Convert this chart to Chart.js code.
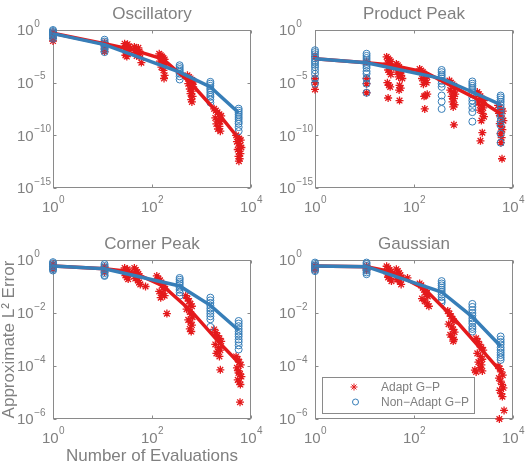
<!DOCTYPE html>
<html lang="en">
<head>
<meta charset="UTF-8">
<title>Adapt vs Non-Adapt G-P</title>
<script src="https://cdn.jsdelivr.net/npm/chart.js"></script>
<style>
  body { margin: 0; background: #fff; }
  .wrap { position: relative; width: 526px; height: 464px; }
  canvas { position: absolute; }
</style>
</head>
<body>
<div class="wrap">
  <canvas id="osc" width="263" height="232" style="left:0;top:0"></canvas>
  <canvas id="prod" width="263" height="232" style="left:263px;top:0"></canvas>
  <canvas id="corner" width="263" height="232" style="left:0;top:232px"></canvas>
  <canvas id="gauss" width="263" height="232" style="left:263px;top:232px"></canvas>
</div>
<script>
// ---- data ----
const xTicks = [1, 100, 10000];
const xTickExp = ['0', '2', '4'];
const yTicksWide = [1e-15, 1e-10, 1e-5, 1];
const yTickExpWide = ['\u221215', '\u221210', '\u22125', '0'];
const yTicksNarrow = [1e-6, 1e-4, 1e-2, 1];
const yTickExpNarrow = ['\u22126', '\u22124', '\u22122', '0'];

const nonAdaptEvals = [1, 11, 362, 1510, 5630];
const adaptMeanEvals = [1, 11, 31, 50, 167, 624, 2150, 5630];

// Oscillatory
const oscNonAdapt = [
  [1.0, 0.8, 0.63, 0.5, 0.4, 0.3, 0.22, 0.15],
  [0.12, 0.08, 0.055, 0.04, 0.03, 0.02, 0.013, 0.008],
  [4.5e-4, 3e-4, 2e-4, 1.4e-4, 1e-4, 7e-5, 4e-5, 2e-5],
  [1.2e-5, 8e-6, 5e-6, 3e-6, 2e-6, 1.2e-6, 7e-7, 4.5e-7, 2.5e-7, 1.3e-7],
  [3.4e-8, 2.2e-8, 1.4e-8, 9e-9, 5.5e-9, 3.5e-9, 2e-9, 1.3e-9, 6e-10, 2.5e-10]
];
const oscNonAdaptMean = [0.45, 0.041, 1.0e-4, 3.9e-6, 1.4e-8];
const oscAdapt = [
  [1, 0.63], [1, 0.32], [1, 0.16], [1, 0.09],
  [11, 0.063], [11, 0.032], [11, 0.016], [11, 0.009],
  [28, 0.05], [30, 0.035], [32, 0.045], [34, 0.028], [29, 0.02], [31, 0.015], [33, 0.022], [35, 0.012], [30, 0.008], [32, 0.006], [29, 0.004], [31, 0.003],
  [44, 0.025], [47, 0.018], [50, 0.012], [53, 0.02], [56, 0.009], [46, 0.007], [52, 0.005], [49, 0.0035], [55, 0.003], [58, 0.006], [61, 8e-4],
  [140, 5.5e-3], [150, 4e-3], [160, 3e-3], [170, 2.2e-3], [180, 1.6e-3], [145, 1.1e-3], [165, 8e-4], [175, 5.5e-4], [185, 4e-4], [155, 3e-4], [170, 1.5e-4], [180, 5e-5], [175, 2.5e-5],
  [520, 5e-5], [560, 3.5e-5], [600, 2.5e-5], [650, 1.8e-5], [700, 1.2e-5], [540, 8e-6], [620, 6e-6], [680, 4e-6], [580, 2.5e-6], [640, 1.6e-6], [600, 9e-7], [660, 5e-7], [620, 2.5e-7], [640, 1.5e-7],
  [1800, 3.3e-8], [1950, 2.2e-8], [2100, 1.5e-8], [2300, 1e-8], [2500, 7e-9], [1900, 4.5e-9], [2200, 3e-9], [2400, 2e-9], [2000, 1.2e-9], [2300, 7e-10], [2150, 4e-10], [2400, 2.5e-10],
  [5000, 1e-10], [5400, 7e-11], [5800, 5e-11], [6200, 3.5e-11], [5200, 2.5e-11], [5600, 1.6e-11], [6000, 1e-11], [6400, 7e-12], [5400, 4.5e-12], [5800, 3e-12], [6100, 1.8e-12], [5600, 1e-12], [5900, 6e-13], [5700, 3.5e-13]
];
const oscAdaptMean = [0.5, 0.05, 0.0178, 0.01, 0.00178, 7.9e-6, 1.26e-8, 5e-11];

// Product Peak
const prodNonAdapt = [
  [1.2e-2, 8e-3, 5e-3, 3e-3, 2e-3, 1.2e-3, 8e-4, 5e-4, 3e-4, 1.5e-4, 7e-5, 2.5e-5, 8e-6],
  [5.6e-3, 3.5e-3, 2.2e-3, 1.4e-3, 9e-4, 6e-4, 4e-4, 2.5e-4, 1.2e-4, 7e-5, 2.5e-5, 8e-6, 1.1e-6],
  [1.6e-4, 1e-4, 6e-5, 4e-5, 2.5e-5, 1.5e-5, 8e-6, 4e-6, 6e-7, 1.6e-7, 3.2e-8],
  [1.3e-5, 8e-6, 5e-6, 3e-6, 2e-6, 1.2e-6, 8e-7, 4e-7, 2e-7, 1e-7, 4e-8, 1.6e-8, 2e-9],
  [6e-7, 4e-7, 2.5e-7, 1.5e-7, 8e-8, 4e-8, 2e-8, 1e-8, 5e-9, 2e-9, 9e-10, 1.4e-10, 2e-11]
];
const prodNonAdaptMean = [1.9e-3, 7.9e-4, 2.4e-5, 1.3e-6, 8.1e-8];
const prodAdapt = [
  [1, 3e-3], [1, 2.5e-5], [1, 1e-5], [1, 2.3e-6],
  [11, 1e-3], [11, 2.5e-5], [11, 8e-6], [11, 1.1e-6],
  [28, 2.8e-3], [30, 2e-3], [32, 1.4e-3], [34, 1e-3], [29, 7e-4], [31, 5e-4], [33, 3.5e-4], [35, 2.5e-4], [30, 1.6e-4], [32, 1e-4], [34, 6e-5], [29, 1e-5], [31, 5.6e-6], [33, 4e-6], [30, 3.5e-7],
  [44, 6e-4], [47, 4.5e-4], [50, 3e-4], [53, 2e-4], [56, 1.4e-4], [46, 1e-4], [52, 7e-5], [55, 5e-5], [49, 3.5e-5], [58, 2.5e-5], [51, 5.6e-6], [54, 3e-6], [50, 2e-6], [51, 2e-7],
  [130, 2e-4], [140, 1.4e-4], [150, 1e-4], [160, 7e-5], [175, 5e-5], [185, 3.5e-5], [145, 2.5e-5], [165, 1.6e-5], [180, 1e-5], [155, 7e-6], [170, 6e-7], [160, 5e-7], [185, 8e-7], [165, 3.2e-8],
  [520, 1.6e-5], [560, 1e-5], [600, 7e-6], [650, 5e-6], [700, 3e-6], [540, 2e-6], [620, 1.3e-6], [680, 8e-7], [580, 5e-7], [640, 3e-7], [600, 1.5e-7], [660, 8e-8], [620, 5e-8], [640, 1e-9],
  [1900, 1.3e-6], [2050, 8e-7], [2200, 5e-7], [2400, 3e-7], [2600, 2e-7], [2000, 1.2e-7], [2300, 7e-8], [2500, 4e-8], [2150, 2.5e-8], [2400, 1.2e-8], [2600, 6e-9], [2300, 2.5e-9], [2400, 1.8e-10], [2200, 3e-11],
  [5000, 7e-8], [5400, 4.5e-8], [5800, 3e-8], [6200, 2e-8], [5200, 1.2e-8], [5600, 7e-9], [6000, 4e-9], [6400, 2.5e-9], [5400, 1.3e-9], [5800, 7e-10], [6100, 3.5e-10], [5600, 1.5e-10], [5900, 6e-11], [5700, 2e-11], [6000, 6e-13]
];
const prodAdaptMean = [1.9e-3, 7.9e-4, 5e-4, 3.2e-4, 1e-4, 4e-6, 2e-7, 1.1e-8];

// Corner Peak
const cornerNonAdapt = [
  [0.83, 0.75, 0.65, 0.58, 0.5, 0.45, 0.4],
  [0.7, 0.6, 0.52, 0.45, 0.38, 0.32, 0.27, 0.25],
  [0.21, 0.18, 0.15, 0.13, 0.11, 0.09, 0.075, 0.06, 0.045],
  [0.038, 0.03, 0.024, 0.019, 0.015, 0.012, 0.0095, 0.0075, 0.0058, 0.003],
  [5e-3, 4e-3, 3.2e-3, 2.5e-3, 2e-3, 1.6e-3, 1.3e-3, 1e-3, 8e-4, 6e-4, 4.2e-4]
];
const cornerNonAdaptMean = [0.59, 0.47, 0.105, 0.0195, 0.00224];
const cornerAdapt = [
  [1, 0.7], [1, 0.55], [1, 0.45],
  [11, 0.55], [11, 0.45], [11, 0.35],
  [28, 0.5], [30, 0.42], [32, 0.36], [34, 0.3], [29, 0.26], [31, 0.22], [33, 0.19], [35, 0.33], [30, 0.28], [32, 0.45],
  [44, 0.5], [47, 0.42], [50, 0.35], [53, 0.3], [56, 0.25], [46, 0.2], [52, 0.17], [55, 0.14], [58, 0.12], [49, 0.22], [74, 0.1],
  [125, 0.25], [135, 0.2], [145, 0.17], [155, 0.14], [165, 0.12], [175, 0.1], [185, 0.08], [140, 0.065], [160, 0.055], [180, 0.045], [150, 0.038], [170, 0.09], [200, 0.0095],
  [480, 0.045], [520, 0.035], [560, 0.028], [600, 0.022], [640, 0.018], [500, 0.014], [580, 0.011], [620, 0.009], [660, 0.007], [540, 0.0055], [600, 0.0045], [640, 0.0035], [580, 0.0025], [620, 0.002],
  [1800, 2.4e-3], [1950, 1.8e-3], [2100, 1.4e-3], [2300, 1.1e-3], [2500, 8.5e-4], [1900, 6.5e-4], [2200, 5e-4], [2400, 4e-4], [2000, 3e-4], [2300, 2.3e-4], [2150, 3.5e-4], [2400, 7.2e-5],
  [5000, 2.3e-4], [5400, 1.8e-4], [5800, 1.4e-4], [6200, 1.1e-4], [5200, 8.5e-5], [5600, 6.5e-5], [6000, 5e-5], [6400, 4e-5], [5400, 3e-5], [5800, 2.5e-5], [6100, 2e-5], [5600, 5.5e-5], [6000, 4.3e-6]
];
const cornerAdaptMean = [0.59, 0.47, 0.38, 0.29, 0.105, 0.0117, 8.7e-4, 1.32e-4];

// Gaussian
const gaussNonAdapt = [
  [0.8, 0.7, 0.62, 0.55, 0.48, 0.42, 0.38],
  [0.8, 0.7, 0.6, 0.52, 0.45, 0.4, 0.34, 0.29],
  [0.16, 0.13, 0.11, 0.09, 0.075, 0.062, 0.05, 0.04, 0.03, 0.025],
  [0.022, 0.017, 0.013, 0.01, 0.008, 0.0063, 0.005, 0.004, 0.003, 0.0025, 0.002],
  [1.3e-3, 1e-3, 8e-4, 6.5e-4, 5e-4, 4e-4, 3.2e-4, 2.6e-4, 2.1e-4, 1.7e-4]
];
const gaussNonAdaptMean = [0.59, 0.56, 0.062, 0.0072, 5.6e-4];
const gaussAdapt = [
  [1, 0.6], [1, 0.5], [1, 0.42],
  [11, 0.6], [11, 0.5], [11, 0.42],
  [28, 0.58], [30, 0.5], [32, 0.42], [34, 0.36], [29, 0.3], [31, 0.25], [33, 0.2], [35, 0.16], [30, 0.22], [32, 0.32],
  [44, 0.45], [47, 0.38], [50, 0.32], [53, 0.27], [56, 0.22], [46, 0.18], [52, 0.15], [55, 0.12], [49, 0.2], [74, 0.21],
  [130, 0.13], [140, 0.11], [150, 0.09], [160, 0.075], [170, 0.062], [180, 0.05], [190, 0.042], [145, 0.035], [165, 0.028], [185, 0.022], [200, 0.018], [175, 0.07],
  [480, 0.012], [520, 0.0095], [560, 0.0075], [600, 0.006], [640, 0.0048], [500, 0.0038], [580, 0.003], [620, 0.0024], [660, 0.0019], [540, 0.0015], [600, 0.0012], [640, 0.001], [620, 0.00087],
  [1800, 1.1e-3], [1950, 8.5e-4], [2100, 6.5e-4], [2300, 5e-4], [2500, 4e-4], [1900, 3e-4], [2200, 2.3e-4], [2400, 1.8e-4], [2000, 1.4e-4], [2300, 1.1e-4], [2150, 8.5e-5], [1700, 7e-5], [1800, 6e-5], [2400, 6.5e-5],
  [5000, 1e-4], [5400, 8e-5], [5800, 6e-5], [6200, 4.5e-5], [5200, 3.5e-5], [5600, 2.7e-5], [6000, 2e-5], [6400, 1.5e-5], [5400, 1.2e-5], [5800, 9e-6], [6100, 7e-6], [6600, 2.1e-6], [5300, 1.0e-6]
];
const gaussAdaptMean = [0.59, 0.56, 0.38, 0.26, 0.078, 0.0066, 4.8e-4, 6.3e-5];

// ---- styling ----
const RED = '#e41a1c';
const BLUE = '#377eb8';
const GRAY = '#808080';
const FRAME = '#8a8a8a';
const FONT = '"Liberation Sans", Arial, sans-serif';

function drawPow(ctx, x, baseline, exp, center) {
  ctx.font = '15px ' + FONT;
  const wb = ctx.measureText('10').width;
  ctx.font = '10px ' + FONT;
  const we = ctx.measureText(exp).width;
  const left = center ? x - (wb + we) / 2 : x;
  ctx.font = '15px ' + FONT;
  ctx.fillText('10', left, baseline);
  ctx.font = '10px ' + FONT;
  ctx.fillText(exp, left + wb + 0.5, baseline - 8.5);
}

const framePlugin = {
  id: 'frame',
  beforeDatasetsDraw(chart, args, o) {
    const { ctx, chartArea: a, scales } = chart;
    ctx.save();
    ctx.strokeStyle = FRAME;
    ctx.lineWidth = 1;
    const l = Math.round(a.left) + 0.5, r = Math.round(a.right) - 0.5;
    const t = Math.round(a.top) + 0.5, b = Math.round(a.bottom) - 0.5;
    ctx.strokeRect(l, t, r - l, b - t);
    ctx.beginPath();
    xTicks.forEach(v => {
      const px = Math.round(scales.x.getPixelForValue(v)) + 0.5;
      ctx.moveTo(px, b); ctx.lineTo(px, b - 3);
      ctx.moveTo(px, t); ctx.lineTo(px, t + 3);
    });
    o.yTicks.forEach(v => {
      const py = Math.round(scales.y.getPixelForValue(v)) + 0.5;
      ctx.moveTo(l, py); ctx.lineTo(l + 3, py);
      ctx.moveTo(r, py); ctx.lineTo(r - 3, py);
    });
    ctx.stroke();
    ctx.restore();
  },
  afterDraw(chart, args, o) {
    const { ctx, chartArea: a, scales } = chart;
    ctx.save();
    ctx.fillStyle = GRAY;
    ctx.textAlign = 'left';
    ctx.textBaseline = 'alphabetic';
    xTicks.forEach((v, i) => {
      drawPow(ctx, scales.x.getPixelForValue(v), a.bottom + 23.5, xTickExp[i], true);
    });
    o.yTicks.forEach((v, i) => {
      drawPow(ctx, a.left - 36, scales.y.getPixelForValue(v) + 5.3, o.yExp[i], false);
    });
    const cx = (a.left + a.right) / 2;
    ctx.textAlign = 'center';
    ctx.font = '17px ' + FONT;
    ctx.fillText(o.title, cx, a.top - 11.5);
    if (o.xLabel) ctx.fillText(o.xLabel, cx, 229);
    if (o.yLabel) {
      ctx.save();
      ctx.translate(14, (a.top + a.bottom) / 2);
      ctx.rotate(-Math.PI / 2);
      ctx.fillText(o.yLabel, 0, 0);
      ctx.restore();
    }
    if (o.legend) {
      const bx = a.left + 7, by = a.top + 117, bw = 152, bh = 36;
      ctx.fillStyle = '#fff';
      ctx.fillRect(bx, by, bw, bh);
      ctx.strokeStyle = FRAME;
      ctx.lineWidth = 1;
      ctx.strokeRect(bx + 0.5, by + 0.5, bw, bh);
      // star marker
      const sx = bx + 32, sy = by + 10, rr = 3.5;
      ctx.strokeStyle = RED;
      ctx.beginPath();
      for (let k = 0; k < 4; k++) {
        const ang = k * Math.PI / 4;
        ctx.moveTo(sx - rr * Math.cos(ang), sy - rr * Math.sin(ang));
        ctx.lineTo(sx + rr * Math.cos(ang), sy + rr * Math.sin(ang));
      }
      ctx.stroke();
      ctx.strokeStyle = BLUE;
      ctx.beginPath();
      ctx.arc(bx + 33.5, by + 25, 3, 0, Math.PI * 2);
      ctx.stroke();
      ctx.fillStyle = GRAY;
      ctx.textAlign = 'left';
      ctx.textBaseline = 'middle';
      ctx.font = '12px ' + FONT;
      ctx.fillText('Adapt G\u2212P', bx + 59, by + 10.5);
      ctx.fillText('Non\u2212Adapt G\u2212P', bx + 59, by + 26);
    }
    ctx.restore();
  }
};

function toPoints(pairs) {
  return pairs.map(p => ({ x: p[0], y: p[1] }));
}

function makePanel(id, p) {
  const blueScatter = p.nonAdapt.flatMap((ys, i) => ys.map(y => ({ x: nonAdaptEvals[i], y })));
  const blueMean = p.nonAdaptMean.map((y, i) => ({ x: nonAdaptEvals[i], y }));
  const redMean = p.adaptMean.map((y, i) => ({ x: adaptMeanEvals[i], y }));
  new Chart(document.getElementById(id), {
    type: 'scatter',
    data: {
      datasets: [
        { data: blueMean, showLine: true, borderColor: BLUE, borderWidth: 3.5, pointRadius: 0, order: 1, clip: false },
        { data: redMean, showLine: true, borderColor: RED, borderWidth: 3.5, pointRadius: 0, order: 2, clip: false },
        { data: blueScatter, pointStyle: 'circle', pointRadius: 3.5, borderWidth: 1, borderColor: BLUE, backgroundColor: 'rgba(0,0,0,0)', order: 3, clip: false },
        { data: toPoints(p.adapt), pointStyle: 'star', pointRadius: 4, borderWidth: 1.3, borderColor: RED, backgroundColor: RED, order: 4, clip: false }
      ]
    },
    options: {
      responsive: false,
      devicePixelRatio: 1,
      animation: false,
      events: [],
      layout: { padding: p.padding },
      scales: {
        x: { type: 'logarithmic', min: 1, max: 10000, display: false },
        y: { type: 'logarithmic', min: p.yTicks[0], max: 1, display: false }
      },
      plugins: {
        legend: { display: false },
        tooltip: { enabled: false },
        frame: { title: p.title, yTicks: p.yTicks, yExp: p.yExp, xLabel: p.xLabel, yLabel: p.yLabel, legend: p.legend }
      }
    },
    plugins: [framePlugin]
  });
}

makePanel('osc', {
  title: 'Oscillatory', nonAdapt: oscNonAdapt, nonAdaptMean: oscNonAdaptMean, adapt: oscAdapt, adaptMean: oscAdaptMean,
  yTicks: yTicksWide, yExp: yTickExpWide, padding: { left: 53, right: 12, top: 30, bottom: 44 }
});
makePanel('prod', {
  title: 'Product Peak', nonAdapt: prodNonAdapt, nonAdaptMean: prodNonAdaptMean, adapt: prodAdapt, adaptMean: prodAdaptMean,
  yTicks: yTicksWide, yExp: yTickExpWide, padding: { left: 52, right: 13, top: 30, bottom: 44 }
});
makePanel('corner', {
  title: 'Corner Peak', nonAdapt: cornerNonAdapt, nonAdaptMean: cornerNonAdaptMean, adapt: cornerAdapt, adaptMean: cornerAdaptMean,
  yTicks: yTicksNarrow, yExp: yTickExpNarrow, padding: { left: 53, right: 12, top: 28, bottom: 45 },
  xLabel: 'Number of Evaluations', yLabel: 'Approximate L\u00b2 Error'
});
makePanel('gauss', {
  title: 'Gaussian', nonAdapt: gaussNonAdapt, nonAdaptMean: gaussNonAdaptMean, adapt: gaussAdapt, adaptMean: gaussAdaptMean,
  yTicks: yTicksNarrow, yExp: yTickExpNarrow, padding: { left: 52, right: 13, top: 28, bottom: 45 },
  legend: true
});
</script>
</body>
</html>
